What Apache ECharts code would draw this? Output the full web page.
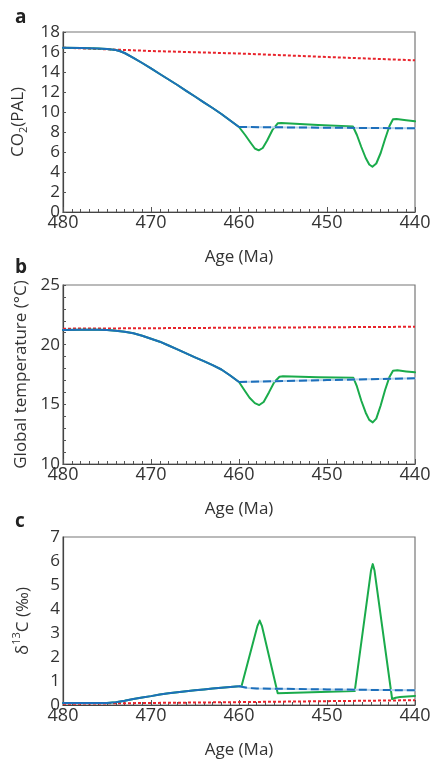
<!DOCTYPE html>
<html><head><meta charset="utf-8">
<script src="https://cdn.jsdelivr.net/npm/echarts@6/dist/echarts.min.js"></script>
<style>html,body{margin:0;padding:0;background:#fff}#c{width:434px;height:760px}</style>
</head><body><div id="c"></div>
<script>
// x axis
const xMin = 440, xMax = 480, xStep = 10;
const xTitle = 'Age (Ma)';

// shared early ages (480 -> 460)
const agesEarly = [480, 478, 476, 475, 474, 473.5, 473, 472, 471, 470, 469, 468, 467, 466, 465, 464, 463, 462, 461, 460];

// Panel a: CO2 (PAL)
const co2Early = [16.43, 16.41, 16.36, 16.3, 16.2, 16.08, 15.9, 15.42, 14.9, 14.37, 13.8, 13.25, 12.7, 12.12, 11.55, 10.97, 10.4, 9.8, 9.15, 8.5];
const co2RefAges = [480, 475, 470, 460, 450, 440];
const co2Ref = [16.43, 16.27, 16.1, 15.85, 15.5, 15.17];
const co2DashAges = [460, 450, 440];
const co2Dash = [8.5, 8.43, 8.37];
const co2GreenAges = [460, 459.3, 458.7, 458.2, 457.76, 457.3, 456.8, 456.2, 455.6, 455.2, 451, 447.05, 446.6, 446.1, 445.6, 445.2, 444.84, 444.4, 443.9, 443.4, 442.9, 442.5, 442.1, 441, 440];
const co2Green = [8.5, 7.7, 6.95, 6.35, 6.17, 6.4, 7.15, 8.2, 8.87, 8.9, 8.7, 8.55, 7.7, 6.5, 5.4, 4.75, 4.53, 4.85, 5.9, 7.3, 8.6, 9.27, 9.3, 9.18, 9.07];

// Panel b: global temperature (°C)
const tEarly = [21.23, 21.25, 21.25, 21.23, 21.17, 21.13, 21.08, 20.95, 20.75, 20.5, 20.25, 19.93, 19.6, 19.27, 18.94, 18.62, 18.29, 17.92, 17.42, 16.87];
const tRefAges = [480, 460, 440];
const tRef = [21.34, 21.42, 21.5];
const tDashAges = [460, 450, 440];
const tDash = [16.87, 17.03, 17.18];
const tGreenAges = [460, 459.4, 458.8, 458.2, 457.7, 457.2, 456.6, 456.0, 455.4, 455.0, 451, 447, 446.6, 446.1, 445.6, 445.2, 444.8, 444.4, 443.9, 443.4, 442.9, 442.5, 442.0, 441, 440];
const tGreen = [16.87, 16.2, 15.55, 15.1, 14.94, 15.2, 16.0, 16.85, 17.31, 17.35, 17.28, 17.22, 16.5, 15.3, 14.3, 13.7, 13.49, 13.8, 14.9, 16.2, 17.3, 17.82, 17.85, 17.76, 17.68];

// Panel c: d13C (permil)
const dEarly = [0.08, 0.08, 0.08, 0.08, 0.12, 0.15, 0.18, 0.25, 0.31, 0.37, 0.44, 0.49, 0.53, 0.57, 0.61, 0.65, 0.69, 0.72, 0.75, 0.78];
const dRefAges = [480, 460, 440];
const dRef = [0.05, 0.12, 0.2];
const dDashAges = [460, 459, 458, 450, 440];
const dDash = [0.78, 0.71, 0.69, 0.65, 0.61];
const dGreenAges = [460, 459.7, 457.9, 457.65, 457.4, 455.6, 446.85, 445.0, 444.8, 444.6, 442.6, 442.2, 441.7, 440];
const dGreen = [0.78, 0.8, 3.3, 3.52, 3.3, 0.49, 0.58, 5.6, 5.87, 5.6, 0.25, 0.3, 0.33, 0.38];

const RED = '#e8232b', BLUE = '#1d6fbb', PALE = '#b9d4ec', GREEN = '#1aab4b';
const FONT = 'Open Sans';
const TXT = '#333';
const zip = (a, b) => a.map((x, i) => [x, b[i]]);

const grids = [
  {left: 63, top: 32, width: 352, height: 180},
  {left: 63, top: 285, width: 352, height: 179},
  {left: 63, top: 537, width: 352, height: 177}
].map(g => Object.assign(g, {show: true, borderColor: '#777', borderWidth: 1.2, backgroundColor: 'transparent'}));

function xAxis(i) {
  return {
    gridIndex: i, type: 'value', min: xMin, max: xMax, interval: xStep, inverse: true,
    name: xTitle, nameLocation: 'middle', nameGap: 37,
    nameTextStyle: {fontFamily: FONT, fontSize: 17, color: TXT},
    axisLine: {onZero: false, lineStyle: {color: '#444', width: 1.2}},
    axisTick: {inside: true, length: 5, lineStyle: {color: '#555'}},
    minorTick: {show: true, splitNumber: 10, length: 3, lineStyle: {color: '#555'}},
    axisLabel: {fontFamily: FONT, fontSize: 18, color: TXT, margin: 2, showMinLabel: true, showMaxLabel: true},
    splitLine: {show: false}
  };
}
function yAxis(i, min, max, interval, name, rich, ticks, minor, gap) {
  return {
    gridIndex: i, type: 'value', min: min, max: max, interval: interval,
    name: name, nameLocation: 'middle', nameGap: gap,
    nameTextStyle: {fontFamily: FONT, fontSize: 17, color: TXT, rich: rich},
    axisLine: {show: true, lineStyle: {color: '#444', width: 1.2}},
    axisTick: {show: ticks, inside: true, length: 3, lineStyle: {color: '#555'}},
    minorTick: {show: !!minor, splitNumber: minor || 5, length: 3, lineStyle: {color: '#555'}},
    axisLabel: {fontFamily: FONT, fontSize: 17, color: TXT, margin: 3},
    splitLine: {show: false}
  };
}
const subRich = {
  n: {fontFamily: FONT, fontSize: 17, color: TXT, lineHeight: 24, verticalAlign: 'middle'},
  s: {fontFamily: FONT, fontSize: 11, color: TXT, lineHeight: 12, verticalAlign: 'bottom'}
};
const supRich = {
  n: {fontFamily: FONT, fontSize: 17, color: TXT, lineHeight: 24, verticalAlign: 'middle'},
  s: {fontFamily: FONT, fontSize: 11, color: TXT, lineHeight: 12, verticalAlign: 'top'}
};

function line(i, data, color, type, z) {
  const solid = type === 'solid';
  return {type: 'line', xAxisIndex: i, yAxisIndex: i, data: data, showSymbol: false, symbol: 'none',
    lineStyle: {color: color, width: 2, type: type, join: 'round', cap: solid ? 'round' : 'butt'},
    z: z, animation: false, silent: true};
}
function panel(i, early, refA, ref, dashA, dash, gA, g) {
  return [
    line(i, zip(refA, ref), RED, [3, 2], 2),
    line(i, zip(agesEarly, early).concat(zip(gA, g).slice(1)), GREEN, 'solid', 3),
    line(i, zip(dashA, dash), PALE, 'solid', 4),
    line(i, zip(dashA, dash), BLUE, [8, 4], 5),
    line(i, zip(agesEarly, early), BLUE, 'solid', 6)
  ];
}

const chart = echarts.init(document.getElementById('c'), null, {renderer: 'canvas'});
chart.setOption({
  animation: false,
  backgroundColor: '#fff',
  grid: grids,
  xAxis: [xAxis(0), xAxis(1), xAxis(2)],
  yAxis: [
    yAxis(0, 0, 18, 2, '{n|CO}{s|2}{n|(PAL)}', subRich, true, 0, 28),
    yAxis(1, 10, 25, 5, 'Global temperature (°C)', null, true, 5, 30),
    yAxis(2, 0, 7, 1, '{n|δ}{s|13}{n|C (‰)}', supRich, false, 0, 28)
  ],
  graphic: [
    {type: 'text', left: 15, top: 8, style: {text: 'a', font: 'bold 19px "Open Sans"', fill: '#222'}},
    {type: 'text', left: 15, top: 258, style: {text: 'b', font: 'bold 19px "Open Sans"', fill: '#222'}},
    {type: 'text', left: 15, top: 512, style: {text: 'c', font: 'bold 19px "Open Sans"', fill: '#222'}}
  ],
  series: [].concat(
    panel(0, co2Early, co2RefAges, co2Ref, co2DashAges, co2Dash, co2GreenAges, co2Green),
    panel(1, tEarly, tRefAges, tRef, tDashAges, tDash, tGreenAges, tGreen),
    panel(2, dEarly, dRefAges, dRef, dDashAges, dDash, dGreenAges, dGreen)
  )
});
</script></body></html>
